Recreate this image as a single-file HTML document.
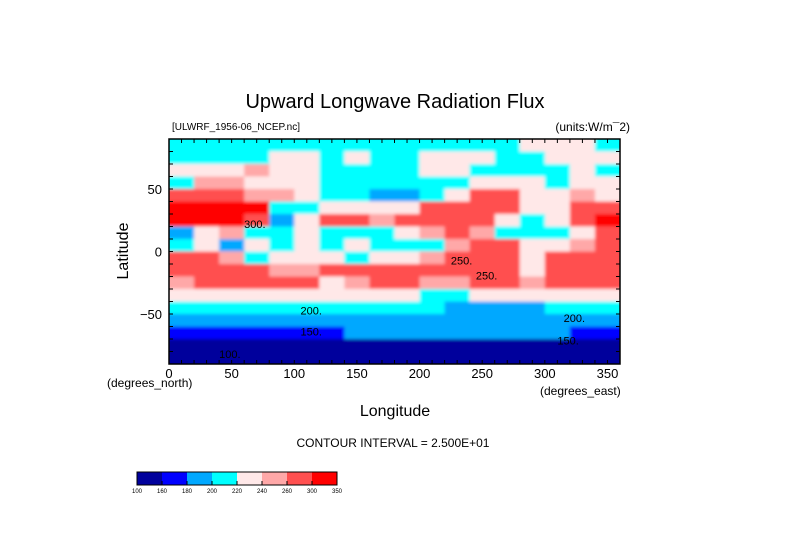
<!DOCTYPE html>
<html><head><meta charset="utf-8"><style>
html,body{margin:0;padding:0;background:#fff;}
svg{display:block;}
text{font-family:"Liberation Sans",sans-serif;fill:#000;}
</style></head><body>
<svg id="chart" width="789" height="558" viewBox="0 0 789 558">
<defs>
<clipPath id="plotclip"><rect x="169" y="139" width="451" height="225"/></clipPath>
<filter id="soft" x="-0.05" y="-0.05" width="1.1" height="1.1"><feGaussianBlur stdDeviation="1.5"/></filter>
</defs>
<text x="395" y="108" font-size="20" text-anchor="middle">Upward Longwave Radiation Flux</text>
<text x="172" y="130" font-size="10">[ULWRF_1956-06_NCEP.nc]</text>
<text x="630" y="131" font-size="12" text-anchor="end">(units:W/m¯2)</text>
<g clip-path="url(#plotclip)">
<g id="cells" filter="url(#soft)"></g>
</g>
<g id="labels"></g>
<rect x="169" y="139" width="451" height="225" fill="none" stroke="#000" stroke-width="1.5"/>
<g id="ticks"></g>
<g id="xlabels"></g>
<g id="ylabels"></g>
<text x="107" y="387" font-size="12">(degrees_north)</text>
<text x="540" y="395" font-size="12">(degrees_east)</text>
<text x="395" y="416" font-size="16" text-anchor="middle">Longitude</text>
<text x="128" y="251" font-size="16" text-anchor="middle" transform="rotate(-90 128 251)">Latitude</text>
<text x="393" y="447" font-size="12" text-anchor="middle">CONTOUR INTERVAL = 2.500E+01</text>
<g id="cbar"></g>
</svg>
<script>
const lats=[85,75,65,55,45,35,25,15,5,-5,-15,-25,-35,-45,-55,-65,-75,-85];
const lons=[10,30,50,70,90,110,130,150,170,190,210,230,250,270,290,310,330,350];
const values=[
[210,210,210,210,210,210,210,210,210,210,210,210,210,210,225,225,225,210],
[210,210,210,210,230,230,210,230,210,210,230,230,230,210,210,230,230,230],
[230,230,230,245,230,230,210,210,210,210,230,230,210,210,210,210,230,210],
[210,245,245,230,230,230,210,210,210,210,210,210,230,230,230,210,230,230],
[270,270,270,250,250,230,210,210,190,190,210,230,270,270,230,230,250,230],
[310,310,310,310,210,210,230,230,230,230,270,270,270,270,230,230,270,270],
[310,310,310,270,190,230,270,270,250,270,270,270,270,230,210,230,270,310],
[190,230,250,210,210,230,210,210,210,230,250,270,250,210,210,210,230,270],
[210,230,190,230,210,230,210,230,210,210,210,250,270,270,230,230,250,270],
[270,270,250,210,230,230,230,210,230,230,250,270,270,270,230,270,270,270],
[270,270,270,270,250,250,270,270,270,270,270,270,270,270,230,270,270,270],
[250,270,270,270,270,270,230,250,270,270,250,250,270,270,250,270,270,270],
[230,230,230,230,230,230,230,230,230,230,210,210,230,230,230,230,230,230],
[210,210,210,210,210,210,210,210,210,210,210,190,190,190,190,210,210,210],
[190,190,190,190,190,190,190,190,190,190,190,190,190,190,190,190,190,190],
[170,170,170,170,170,170,170,185,185,185,185,185,185,185,185,185,170,170],
[140,140,140,140,140,140,140,140,140,140,140,140,140,140,140,140,140,140],
[140,140,140,140,140,140,140,140,140,140,140,140,140,140,140,140,140,140]
];
const levels=[160,180,200,220,240,260,300];
const colors=["#00009c","#0000ff","#00a8ff","#00ffff","#ffe8e8","#ffa8a8","#ff5050","#ff0000"];
const cbarLabels=["100","160","180","200","220","240","260","300","350"];
const xTicks=[0,50,100,150,200,250,300,350];
const yTicks=[50,0,-50];
const NS="http://www.w3.org/2000/svg";
const X0=169,X1=620,Y0=139,Y1=364;
function xs(lon){return X0+lon/360*(X1-X0);}
function ys(lat){return Y0+(90-lat)/180*(Y1-Y0);}
function colorOf(v){let i=0;while(i<levels.length&&v>=levels[i])i++;return colors[i];}
function mk(tag,attrs,parent){const e=document.createElementNS(NS,tag);for(const k in attrs)e.setAttribute(k,attrs[k]);parent.appendChild(e);return e;}
const cells=document.getElementById('cells');
values.forEach((row,r)=>row.forEach((v,c)=>{
  let x0=xs(lons[c]-10),x1=xs(lons[c]+10),y0=ys(lats[r]+5),y1=ys(lats[r]-5);
  if(c===0)x0-=6; if(c===lons.length-1)x1+=6; if(r===0)y0-=6; if(r===lats.length-1)y1+=6;
  const e=mk('rect',{x:x0,y:y0,width:x1-x0+0.5,height:y1-y0+0.5,fill:colorOf(v)},cells);
  
  
}));
const lab=document.getElementById('labels');
[["300.",60,22],["250.",225,-7],["250.",245,-19],["200.",105,-47],["200.",315,-53],["150.",105,-64],["150.",310,-71],["100.",40,-82]].forEach(d=>{
  const t=mk('text',{x:xs(d[1]),y:ys(d[2])+4,'font-size':11},lab);t.textContent=d[0];
  
  
});
const tk=document.getElementById('ticks');
for(let l=10;l<360;l+=10){
  const a=mk('line',{x1:xs(l),x2:xs(l),y1:Y0,y2:Y0+4,stroke:'#000'},tk);
  
  
  const b=mk('line',{x1:xs(l),x2:xs(l),y1:Y1,y2:Y1-4,stroke:'#000'},tk);
  
  
}
for(let l=-80;l<90;l+=10){
  const a=mk('line',{x1:X0,x2:X0+4,y1:ys(l),y2:ys(l),stroke:'#000'},tk);
  
  
  const b=mk('line',{x1:X1,x2:X1-4,y1:ys(l),y2:ys(l),stroke:'#000'},tk);
  
  
}
const xl=document.getElementById('xlabels');
xTicks.forEach(v=>{const t=mk('text',{x:xs(v),y:378,'font-size':13,'text-anchor':'middle'},xl);t.textContent=v;
  
  });
const yl=document.getElementById('ylabels');
yTicks.forEach(v=>{const t=mk('text',{x:162,y:ys(v)+5,'font-size':13,'text-anchor':'end'},yl);t.textContent=v===-50?'\u221250':v;
  
  });
const cb=document.getElementById('cbar');
const cw=25,cx=137,cy=472;
colors.forEach((c,i)=>{const r=mk('rect',{x:cx+i*cw,y:cy,width:cw,height:13,fill:c},cb);
  
  });
const fr=mk('rect',{x:cx,y:cy,width:cw*colors.length,height:13,fill:'none',stroke:'#000','stroke-width':1},cb);


cbarLabels.forEach((s,i)=>{
  const l=mk('line',{x1:cx+i*cw,x2:cx+i*cw,y1:cy+9,y2:cy+13,stroke:'#000'},cb);
  
  
  const t=mk('text',{x:cx+i*cw,y:cy+21,'font-size':6,'text-anchor':'middle'},cb);t.textContent=s;
  
  
});
</script>
</body></html>
